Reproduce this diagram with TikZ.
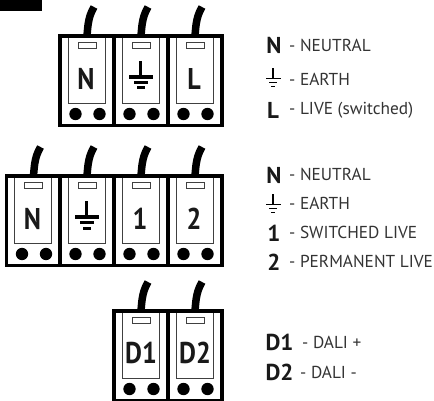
\documentclass[tikz,border=0pt]{standalone}
\usepackage{fontspec}
\setmainfont{PT Sans}
\newfontfamily\tagfont[FakeStretch=0.87]{PT Sans}
\usetikzlibrary{positioning}

\tikzset{
    wire/.style={line width=7.5pt, black},
    frame/.style={line width=3.6pt, black},
    inner/.style={line width=0.9pt, black!75},
    tag/.style={inner sep=0pt, font=\tagfont\bfseries\fontsize{30}{30}\selectfont, text=black!90},
    key/.style={inner sep=0pt, font=\bfseries\fontsize{23}{23}\selectfont, text=black!90},
    desc/.style={inner sep=0pt, anchor=west, font=\fontsize{17.3}{20}\selectfont, text=black!80},
}

% one terminal, #1 left edge, #2 top edge, #3 what goes in the middle
\newcommand{\terminal}[3]{
    \begin{scope}[shift={(#1,#2)}]
        \draw[wire] (27,0) .. controls (28,-14) and (29,-20) .. (34,-29);
        \draw[inner] (8.3,2) -- (8.3,67) -- (45,67) -- (45,2);
        \draw[inner, fill=white] (18,6.5) rectangle (36,12.5);
        \fill (15.5,78) circle (6.2);
        \fill (39.5,78) circle (6.2);
        \draw[frame] (0,0) rectangle (54,89.5);
        #3
    \end{scope}
}
\newcommand{\earthsign}[1]{
    \begin{scope}[shift={#1}]
        \fill (-1.6,-14) rectangle (1.6,0);
        \fill (-12,0) rectangle (12,3.6);
        \fill (-7,6) rectangle (7,9);
        \fill (-4,11.5) rectangle (4,14.5);
    \end{scope}
}
\newcommand{\earthkey}[1]{
    \begin{scope}[shift={#1}]
        \fill (-0.8,-10) rectangle (0.8,0);
        \fill (-7.5,0) rectangle (7.5,1.4);
        \fill (-4,4) rectangle (4,5.4);
        \fill (-2,8) rectangle (2,9.4);
    \end{scope}
}

\begin{document}
\begin{tikzpicture}[x=1pt, y=-1pt]
    \useasboundingbox (0,0) rectangle (434,401);
    \fill (0,0) rectangle (42,11);

    % top row
    \terminal{60}{36}{\node[tag] (n1) at (26,43) {N};}
    \terminal{114}{36}{\earthsign{(26.7,39)}}
    \terminal{168}{36}{\node[tag] (l1) at (26,43) {L};}

    \node[key] (kn1) at (274,45) {N};
    \node[desc] (dn1) at (289,45) {- NEUTRAL};
    \earthkey{(273,78)}
    \node[desc] (de1) at (289,79) {- EARTH};
    \node[key] (kl1) at (273,110) {L};
    \node[desc] (dl1) at (289,110) {- LIVE (switched)};

    % middle row
    \terminal{6.5}{176}{\node[tag] (n2) at (26,43) {N};}
    \terminal{60}{176}{\earthsign{(26.7,39)}}
    \terminal{114}{176}{\node[tag] (one) at (26,43) {1};}
    \terminal{168}{176}{\node[tag] (two) at (26,43) {2};}

    \node[key] (kn2) at (274,175) {N};
    \node[desc] (dn2) at (289,174) {- NEUTRAL};
    \earthkey{(273,204)}
    \node[desc] (de2) at (289,203) {- EARTH};
    \node[key] (kone) at (274,233) {1};
    \node[desc] (done) at (289,232) {- SWITCHED LIVE};
    \node[key] (ktwo) at (274,262) {2};
    \node[desc] (dtwo) at (289,261) {- PERMANENT LIVE};

    % bottom row
    \terminal{114}{311}{\node[tag] (d1) at (27,42) {D1};}
    \terminal{168}{311}{\node[tag] (d2) at (27,42) {D2};}

    \node[key] (kd1) at (279.5,342) {D1};
    \node[desc] (dd1) at (302,342) {- DALI +};
    \node[key] (kd2) at (279.5,372) {D2};
    \node[desc] (dd2) at (300,372) {- DALI -};
\end{tikzpicture}
\end{document}
